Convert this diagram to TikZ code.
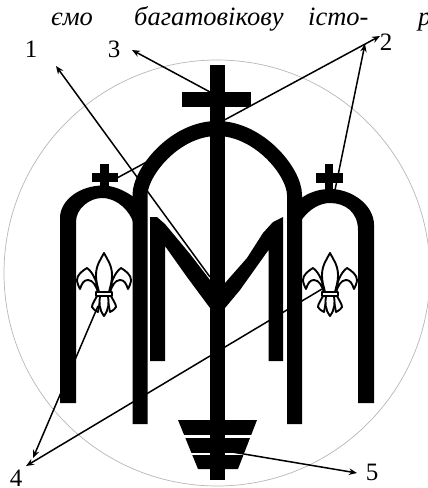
\documentclass[tikz,border=0pt]{standalone}
\usepackage{fontspec}
\setmainfont{Liberation Serif}
\usetikzlibrary{arrows.meta}
\tikzset{
  x=1pt,y=-1pt,
  ring/.style={draw=black!28,line width=0.7pt},
  band/.style={draw=black,line width=15pt,line cap=butt,line join=round},
  solid/.style={fill=black,draw=none},
  fleur/.style={draw=black,fill=white,line width=1.9pt,line join=round},
  callout/.style={draw=black,line width=1.5pt,-{Stealth[length=8pt,width=6.5pt]}},
  num/.style={font=\fontsize{25}{25}\selectfont,inner sep=0pt},
  top/.style={font=\fontsize{26.5}{26.5}\selectfont\itshape,inner sep=0pt,anchor=base west},
}
\newcommand{\halffleur}{%
  \path[fleur] (-6,39) .. controls (-6,32) and (-10,20) .. (-17,15) .. controls (-22,18) and (-27,22) .. (-27,27) .. controls (-27,30) and (-25,34) .. (-24,36) .. controls (-22,30) and (-20,27) .. (-16,27) .. controls (-11,27) and (-8,33) .. (-6,39) -- cycle;
  \path[fleur] (-7,43) .. controls (-9,47) and (-12,51) .. (-12,54) .. controls (-10,57) and (-8,58) .. (-6,59) .. controls (-5,54) and (-4,48) .. (-3,43) -- cycle;
}
\newcommand{\fleurmark}[2]{%
  \begin{scope}[shift={(#1,#2)}]
    \halffleur
    \begin{scope}[xscale=-1]\halffleur\end{scope}
    \path[fleur] (0,0) .. controls (-3,6) and (-8,12) .. (-8,22) .. controls (-8,30) and (-6,34) .. (-5,39) -- (5,39) .. controls (6,34) and (8,30) .. (8,22) .. controls (8,12) and (3,6) .. (0,0) -- cycle;
    \path[fleur] (-4,43) .. controls (-5,50) and (-5,56) .. (0,63) .. controls (5,56) and (5,50) .. (4,43) -- cycle;
    \path[fleur] (-8,39) rectangle (8,43);
  \end{scope}}
\begin{document}
\begin{tikzpicture}
\useasboundingbox (0,0) rectangle (428,488);
\path[fill=white] (0,0) rectangle (428,488);
\draw[ring] (217,273) circle [radius=213];
% text line
\node[top] (w1) at (51,25) {ємо};
\node[top] (w2) at (134,25) {багатовікову};
\node[top] (w3) at (308,25) {істо-};
\begin{scope}
\clip (0,0) rectangle (428,488);
\node[top] (w4) at (418,25) {р};
\end{scope}
% numbers
\node[num] (n1) at (31,49) {1};
\node[num] (n3) at (114,49) {3};
\node[num] (n2) at (386,42) {2};
\node[num] (n4) at (16,478) {4};
\node[num] (n5) at (372,472) {5};
% domes
\draw[band] (140,424) -- (140,195) .. controls (140,172) and (175,128.5) .. (217,128.5) .. controls (259,128.5) and (294.5,172) .. (294.5,195) -- (294.5,424);
\path[solid] (60,403) -- (60,218) .. controls (60,200) and (80,185.5) .. (103,185.5) .. controls (115,185.5) and (127,192) .. (135,198) -- (135,222) -- (133,222) .. controls (130,212) and (118,198) .. (102,198) .. controls (90,198) and (76,208) .. (76,222) -- (76,403) -- cycle;
\path[solid] (374,403) -- (374,225) .. controls (374,205) and (352,189) .. (330,189) .. controls (318,189) and (308,193) .. (300,199) -- (300,222) -- (303,218) .. controls (310,209) and (320,203) .. (330,203) .. controls (345,203) and (358,212) .. (358,230) -- (358,403) -- cycle;
% central cross
\path[solid] (210,65) rectangle (225,480);
\path[solid] (182,92) rectangle (251,107);
% small crosses
\path[solid] (100,164) rectangle (109,190);
\path[solid] (92,173) rectangle (118,182);
\path[solid] (325,164) rectangle (333,192);
\path[solid] (316,173) rectangle (343,183);
% M
\path[solid] (150,361) -- (150,217) -- (157,217) -- (165,224) -- (190,254) -- (210,280) -- (225,283) -- (247,258) -- (263,233) -- (273,222) -- (283,217) -- (283,361) -- (268.5,361) -- (268.5,250) -- (240,290) -- (225,308) -- (210,308) -- (187,277) -- (165,246) -- (165,361) -- cycle;
% base
\path[solid] (178,420) -- (257,420) -- (238,469) -- (198,469) -- cycle;
\path[fill=white] (170,435) rectangle (210,437.5);
\path[fill=white] (225,435) rectangle (265,437.5);
\path[fill=white] (170,452.5) rectangle (210,455);
\path[fill=white] (225,452.5) rectangle (265,455);
% fleurs
\fleurmark{104}{253}
\fleurmark{330}{253}
% connector ends
\coordinate (s1) at (210,277); \coordinate (t1) at (56,66);
\coordinate (s3) at (210,92); \coordinate (t3) at (132,50);
\coordinate (s2a) at (117,178); \coordinate (t2a) at (380,36);
\coordinate (s2b) at (335,190); \coordinate (t2b) at (365,44);
\coordinate (s4a) at (98,306); \coordinate (t4a) at (33,458);
\coordinate (s4b) at (322,289); \coordinate (t4b) at (26,466);
\coordinate (s5) at (226,451); \coordinate (t5) at (357,473);
\draw[callout] (s1) -- (t1);
\draw[callout] (s3) -- (t3);
\draw[callout] (s2a) -- (t2a);
\draw[callout] (s2b) -- (t2b);
\draw[callout] (s4a) -- (t4a);
\draw[callout] (s4b) -- (t4b);
\draw[callout] (s5) -- (t5);
\end{tikzpicture}
\end{document}
